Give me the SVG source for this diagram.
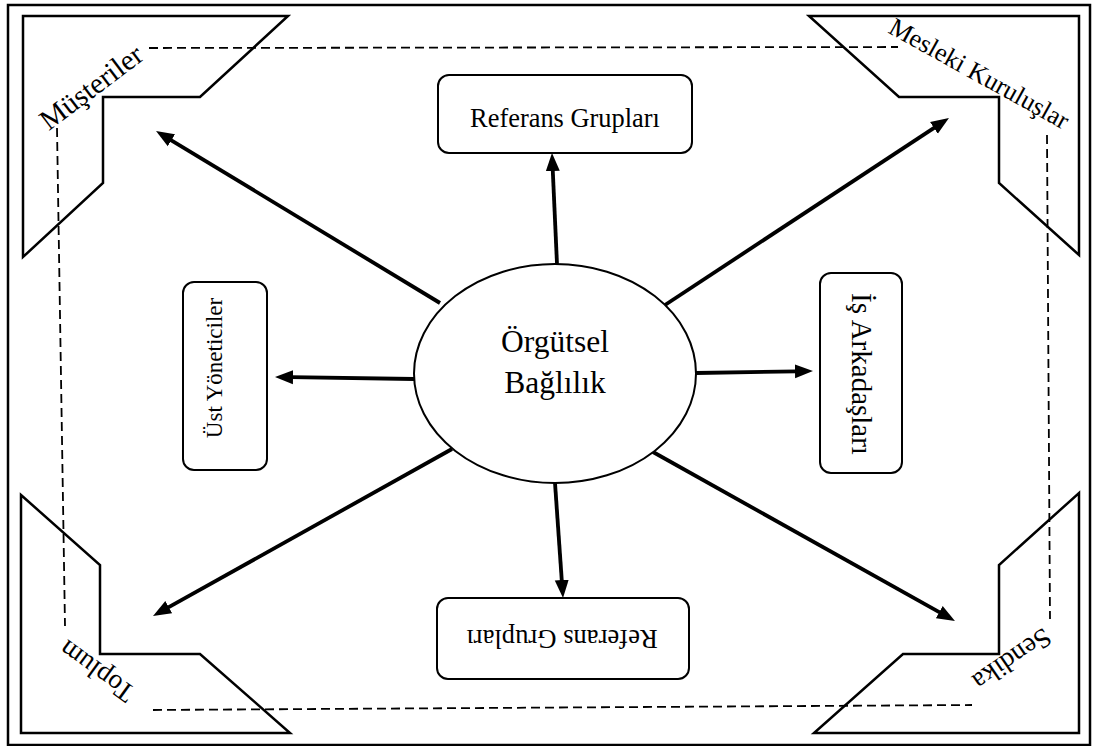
<svg xmlns="http://www.w3.org/2000/svg" width="1096" height="746" viewBox="0 0 1096 746">
<style>
.frame{fill:none;stroke:#000;stroke-width:2.5}
.corner{fill:#fff;stroke:#000;stroke-width:2.5;stroke-linejoin:miter}
.dash{fill:none;stroke:#000;stroke-width:1.8;stroke-dasharray:9,5}
.box{fill:#fff;stroke:#000;stroke-width:2}
.arrow{stroke:#000;stroke-width:3.8;fill:none;marker-end:url(#ah)}
text{font-family:"Liberation Serif","Times New Roman",serif;fill:#000;text-anchor:middle}
.big{font-size:31.5px}
</style>
<defs>
<marker id="ah" markerUnits="userSpaceOnUse" viewBox="0 -8 20 16" markerWidth="20" markerHeight="16" refX="2" refY="0" orient="auto">
<path d="M0,-7 L18,0 L0,7 z" fill="#000"/>
</marker>
</defs>
<rect x="0" y="0" width="1096" height="746" fill="#fff"/>
<rect class="frame" x="8" y="5" width="1082" height="740"/>
<g id="corners">
<polygon class="corner" points="23,16 288,16 200,97 103,97 103,183 23,257"/>
<polygon class="corner" points="809,16 1079,16 1079,255 999,183 999,97 899,97"/>
<polygon class="corner" points="21,495 100,565 100,654 200,654 290,733 21,733"/>
<polygon class="corner" points="1079,493 1079,733 814,733 903,654 999,654 999,565"/>
</g>
<g id="dashed">
<line class="dash" x1="149" y1="48" x2="898" y2="47"/>
<line class="dash" x1="57" y1="128" x2="65" y2="626"/>
<line class="dash" x1="1047" y1="135" x2="1050" y2="619"/>
<line class="dash" x1="153" y1="710" x2="972" y2="705"/>
</g>
<g id="corner-labels">
<text font-size="29" transform="translate(97,95) rotate(-37)">Müşteriler</text>
<text font-size="26" transform="translate(975,81) rotate(29)">Mesleki Kuruluşlar</text>
<text font-size="27.5" transform="translate(102,664) rotate(216)">Toplum</text>
<text font-size="27.5" transform="translate(1007,652) rotate(145.6)">Sendika</text>
</g>
<g id="connectors">
<line class="arrow" x1="557" y1="264" x2="552.7" y2="169"/>
<line class="arrow" x1="555" y1="483" x2="561.9" y2="582"/>
<line class="arrow" x1="414" y1="379" x2="291" y2="377.2"/>
<line class="arrow" x1="696" y1="373" x2="797" y2="371.3"/>
<line class="arrow" x1="440" y1="303" x2="169.7" y2="139.3"/>
<line class="arrow" x1="665" y1="305" x2="935.6" y2="126.8"/>
<line class="arrow" x1="452" y1="449" x2="167" y2="608.2"/>
<line class="arrow" x1="653" y1="452" x2="941" y2="613.2"/>
</g>
<g id="center">
<ellipse cx="555" cy="373.5" rx="141" ry="109.5" fill="#fff" stroke="#000" stroke-width="2"/>
<text class="big" x="555" y="352">Örgütsel</text>
<text class="big" x="555" y="393">Bağlılık</text>
</g>
<g id="ref-top">
<rect class="box" x="438" y="75" width="254" height="78" rx="11"/>
<text font-size="26.4" x="565" y="127">Referans Grupları</text>
</g>
<g id="ref-bottom">
<rect class="box" x="437" y="598" width="252" height="81" rx="11"/>
<text font-size="26.6" transform="translate(562,630) rotate(180)">Referans Grupları</text>
</g>
<g id="ust">
<rect class="box" x="183" y="282" width="84" height="188" rx="11"/>
<text font-size="23" transform="translate(222,368) rotate(-90)">Üst Yöneticiler</text>
</g>
<g id="is">
<rect class="box" x="820" y="273" width="82" height="200" rx="11"/>
<text font-size="29" transform="translate(852,374) rotate(90)">İş Arkadaşları</text>
</g>
</svg>
